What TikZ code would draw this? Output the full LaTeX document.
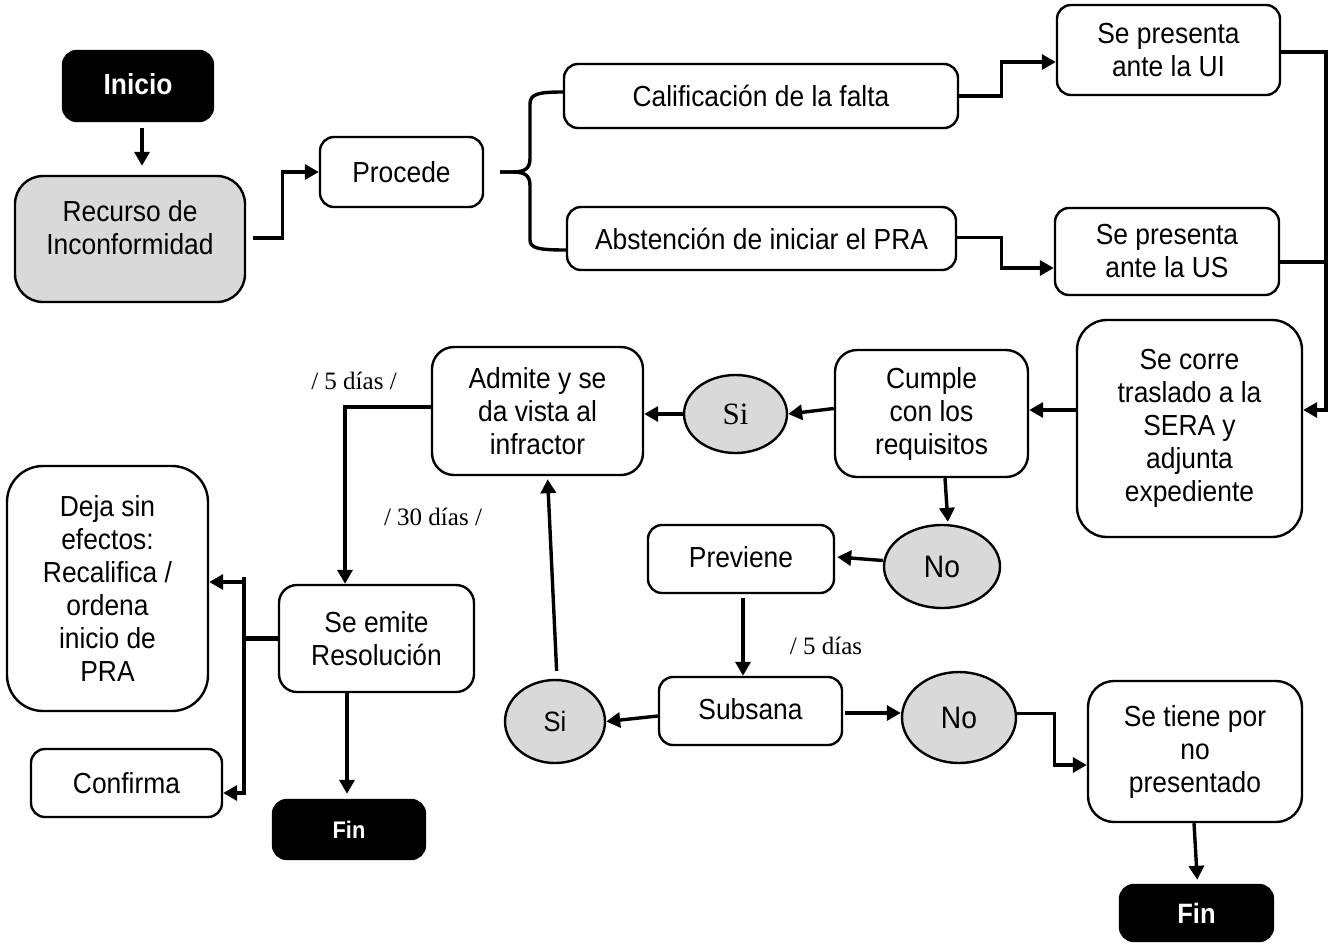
\documentclass[tikz,border=0pt]{standalone}
\usepackage{fontspec}
\setmainfont{Liberation Sans}[FakeStretch=0.91]
\newfontfamily\serifA{Liberation Serif}
\usetikzlibrary{arrows.meta,shapes.geometric,calc}
\newcommand\fsA{\fontsize{29}{33}\selectfont}
\begin{document}
\begin{tikzpicture}[x=1pt,y=-1pt,
  box/.style={draw, line width=2.4pt, rounded corners=14pt, fill=white, align=center, inner sep=0pt, font=\fsA},
  bigbox/.style={box, rounded corners=30pt},
  term/.style={box, fill=black, text=white, font=\fsA\bfseries},
  oval/.style={ellipse, draw, line width=2.4pt, fill=black!15, inner sep=0pt, font=\fontsize{31}{33}\selectfont},
  conn/.style={line width=3.4pt},
  arr/.style={conn, -{Triangle[length=14pt,width=15pt]}},
  lbl/.style={font=\serifA\fontsize{25}{30}\selectfont, inner sep=0pt}
]
\useasboundingbox (0,0) rectangle (1336,943);

% nodes
\node[term, minimum width=150pt, minimum height=70pt] (inicio) at (138,86) {\raisebox{5pt}{Inicio}};
\node[box, fill=black!15, rounded corners=28pt, minimum width=230pt, minimum height=126pt] (rec) at (130,239) {};
\node[font=\fsA, align=center] (recT) at (130,228) {Recurso de\\Inconformidad};
\node[box, minimum width=163pt, minimum height=70pt] (proc) at (401.5,172) {Procede};
\node[box, minimum width=394pt, minimum height=64pt] (cal) at (761,96) {Calificación de la falta};
\node[box, minimum width=389pt, minimum height=63pt] (abs) at (761.5,238.5) {Abstención de iniciar el PRA};
\node[box, minimum width=223pt, minimum height=90pt] (ui) at (1168.5,50) {Se presenta\\ante la UI};
\node[box, minimum width=224pt, minimum height=87pt] (us) at (1167,251.5) {Se presenta\\ante la US};
\node[bigbox, minimum width=225pt, minimum height=217pt] (sera) at (1189.5,428.5) {Se corre\\traslado a la\\SERA y\\adjunta\\expediente};
\node[box, rounded corners=22pt, minimum width=193pt, minimum height=127pt] (cum) at (931.5,413.5) {Cumple\\con los\\requisitos};
\node[oval, font=\serifA\fontsize{31}{33}\selectfont, minimum width=103pt, minimum height=78pt] (si1) at (735.5,414) {Si};
\node[box, rounded corners=22pt, minimum width=211pt, minimum height=128pt] (adm) at (537.5,411) {Admite y se\\da vista al\\infractor};
\node[box, rounded corners=18pt, minimum width=195pt, minimum height=107pt] (emi) at (376.5,638.5) {Se emite\\Resolución};
\node[box, rounded corners=36pt, minimum width=201pt, minimum height=245pt] (deja) at (107.5,588.5) {Deja sin\\efectos:\\Recalifica /\\ordena\\inicio de\\PRA};
\node[box, minimum width=191pt, minimum height=68pt] (conf) at (126.5,783) {Confirma};
\node[term, font=\fontsize{24}{28}\selectfont\bfseries, minimum width=152pt, minimum height=59pt] (fin1) at (349,829.5) {Fin};
\node[oval, minimum width=116pt, minimum height=83pt] (no1) at (942,566.5) {No};
\node[box, minimum width=186pt, minimum height=68pt] (prev) at (741,559) {\raisebox{4pt}{Previene}};
\node[box, minimum width=183pt, minimum height=68pt] (sub) at (750.5,711) {\raisebox{4pt}{Subsana}};
\node[oval, font=\fontsize{28}{33}\selectfont, minimum width=100pt, minimum height=83pt] (si2) at (555,721.5) {Si};
\node[oval, minimum width=114pt, minimum height=91pt] (no2) at (959,717.5) {No};
\node[bigbox, rounded corners=26pt, minimum width=214pt, minimum height=141pt] (tiene) at (1195,751.5) {Se tiene por\\no\\presentado};
\node[term, font=\fontsize{28}{30}\selectfont\bfseries, minimum width=153pt, minimum height=56pt] (fin2) at (1196.5,913) {Fin};

% labels
\node[lbl] (l1) at (354,381) {/ 5 días /};
\node[lbl] (l2) at (433,517) {/ 30 días /};
\node[lbl] (l3) at (826,646) {/ 5 días};

% helper coordinates
\coordinate (rx) at (1326,0);
\coordinate (seraIn) at ([yshift=18.5pt]sera.east);
\coordinate (usOut) at ([yshift=-10.5pt]us.east);
\coordinate (seraOut) at ([yshift=18.5pt]sera.west);
\coordinate (subOut) at ([yshift=-2pt]sub.east);
\coordinate (tip) at (500,172);

% connectors
\draw[arr, shorten <=6pt, shorten >=9pt] ([xshift=4pt]inicio.south) -- ([xshift=4pt]inicio.south |- rec.north);
\draw[arr, shorten <=7pt] ([yshift=1pt]rec.east) -- ++(36,0) |- (proc.west);

% brace
\draw[conn] (tip) -- ++(12,0) .. controls (526,172) and (530,168) .. (530,158) -- (530,104) .. controls (530,94) and (538,92) .. ([yshift=4pt]cal.west);
\draw[conn] (tip) -- ++(12,0) .. controls (526,172) and (530,176) .. (530,186) -- (530,240) .. controls (530,248) and (538,250) .. ([yshift=-11.5pt]abs.west);

\draw[arr] (cal.east) -- ++(42,0) |- ([yshift=-12pt]ui.west);
\draw[arr] ([yshift=1pt]abs.east) -- ++(44,0) |- ([yshift=-16.5pt]us.west);

\draw[arr] ([yshift=-2pt]ui.east) -| (rx |- seraIn) -- (seraIn);
\draw[conn] (usOut) -- (rx |- usOut);

\draw[arr] (seraOut) -- (cum.east |- seraOut);
\draw[arr] ([yshift=5pt]cum.west) -- (si1.east);
\draw[arr] (si1.west) -- (adm.east |- si1.west);
\draw[arr] ([yshift=4pt]adm.west) -| ([xshift=-31.5pt]emi.north);

\draw[line width=5.5pt] (emi.west) -- ++(-34,0) coordinate (bj);
\draw[arr] ([yshift=-62pt]bj) |- ([yshift=6.5pt]deja.east);
\draw[arr] ([yshift=62pt]bj) |- ([yshift=-10pt]conf.east);
\draw[conn] ([yshift=-62pt]bj) -- ([yshift=62pt]bj);

\draw[arr, shorten >=5pt] ([xshift=-29.5pt]emi.south) -- ([xshift=-29.5pt]emi.south |- fin1.north);

\draw[arr, shorten >=2pt] ([xshift=13.5pt]cum.south) -- ([xshift=6pt]no1.north);
\draw[arr] ([yshift=6pt]no1.west) -- ([xshift=2pt,yshift=2pt]prev.east);
\draw[arr, shorten <=4pt] ([xshift=2pt]prev.south) -- ([xshift=2pt]prev.south |- sub.north);
\draw[arr] ([yshift=-5pt]sub.west) -- (si2.east);
\draw[arr, shorten <=8pt, shorten >=3pt] ([xshift=2pt]si2.north) -- ([xshift=10pt]adm.south);
\draw[arr, shorten <=2pt] (subOut) -- (no2.west |- subOut);
\draw[arr] ([yshift=4pt]no2.east) -- ++(37,0) |- ([yshift=-13.5pt]tiene.west);
\draw[arr, shorten >=4pt] ([xshift=-1pt]tiene.south) -- ([xshift=1pt]fin2.north);
\end{tikzpicture}
\end{document}
